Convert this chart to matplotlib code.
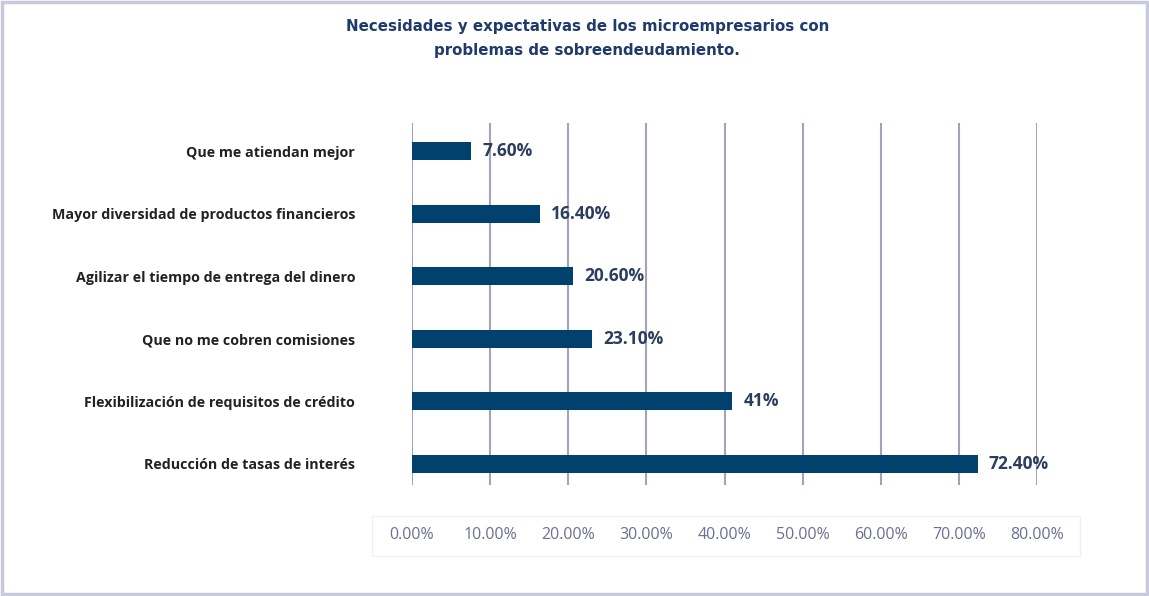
"""Necesidades y expectativas de microempresarios sobreendeudados."""

import matplotlib

matplotlib.use("Agg")

import matplotlib.pyplot as plt
from matplotlib.patches import Rectangle

categories = [
    "Reducción de tasas de interés",
    "Flexibilización de requisitos de crédito",
    "Que no me cobren comisiones",
    "Agilizar el tiempo de entrega del dinero",
    "Mayor diversidad de productos financieros",
    "Que me atiendan mejor",
]
values = [72.4, 41.0, 23.1, 20.6, 16.4, 7.6]
value_labels = ["72.40%", "41%", "23.10%", "20.60%", "16.40%", "7.60%"]
ticks = [0, 10, 20, 30, 40, 50, 60, 70, 80]
tick_labels = [f"{t:.2f}%" for t in ticks]

BAR = "#00416e"
GRID = "#a3a3bf"
TITLE = "#1f3b6b"
FONT = "Open Sans"

fig = plt.figure(figsize=(11.49, 5.96), dpi=100)
ax = fig.add_axes([0.3586, 0.1862, 0.5439, 0.6074])

pos = range(len(categories))
ax.barh(pos, values, height=0.29, color=BAR, zorder=3)
ax.set_xlim(0, 80)
ax.set_ylim(-0.34, 5.45)
ax.set_xticks(ticks)
ax.grid(axis="x", color=GRID, linewidth=1.5, zorder=0)
ax.tick_params(axis="x", length=0, labelbottom=False)
ax.set_yticks(list(pos))
ax.set_yticklabels(categories, fontsize=10.3, fontweight="bold", color="#222222",
                   family=FONT)
ax.tick_params(axis="y", length=0, pad=41)
for s in ax.spines.values():
    s.set_visible(False)

for p, v, lab in zip(pos, values, value_labels):
    ax.annotate(lab, (v, p), xytext=(8, 0), textcoords="offset points",
                ha="left", va="center", fontsize=12.5, fontweight="bold",
                color="#2c3d60", family=FONT, zorder=4)

# tick labels below, in a faint box
for t, lab in zip(ticks, tick_labels):
    ax.text(t, -0.138, lab, transform=ax.get_xaxis_transform(), ha="center",
            va="center", fontsize=11.5, color="#6b7090", family=FONT)
fig.patches.append(Rectangle((372 / 1149, 1 - 556 / 596), 708 / 1149, 40 / 596,
                             transform=fig.transFigure, fill=False,
                             edgecolor="#eef0f6", linewidth=1))

fig.text(0.511, 0.968, "Necesidades y expectativas de los microempresarios con\n"
         "problemas de sobreendeudamiento.", ha="center", va="top",
         fontsize=10.8, fontweight="bold", color=TITLE, linespacing=1.75)

fig.patches.append(Rectangle((0.002, 0.004), 0.996, 0.992, transform=fig.transFigure,
                             fill=False, edgecolor="#c9c9dc", linewidth=2.5))

fig.savefig("out.png", dpi=100)
